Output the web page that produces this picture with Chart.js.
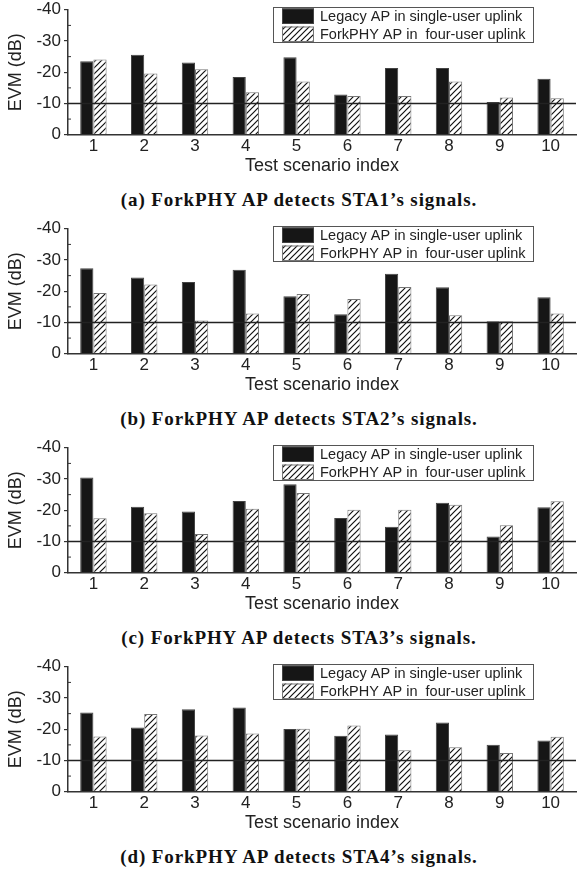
<!DOCTYPE html>
<html lang="en">
<head>
    <meta charset="UTF-8">
    <title>EVM per test scenario</title>
    <style>
        body {
            margin: 0;
            background: #fff;
            width: 588px;
        }

        .panel {
            height: 219px;
        }

        canvas {
            display: block;
        }

        .caption {
            height: 39px;
            line-height: 39px;
            text-align: center;
            padding-left: 10px;
            font-family: 'Liberation Serif', 'DejaVu Serif', serif;
            font-weight: bold;
            font-size: 19px;
            letter-spacing: 0.9px;
            color: #111;
        }
    </style>
</head>
<body>

<div class="panel">
    <canvas id="chartA" width="588" height="180"></canvas>
    <div class="caption">(a) ForkPHY AP detects STA1’s signals.</div>
</div>
<div class="panel">
    <canvas id="chartB" width="588" height="180"></canvas>
    <div class="caption">(b) ForkPHY AP detects STA2’s signals.</div>
</div>
<div class="panel">
    <canvas id="chartC" width="588" height="180"></canvas>
    <div class="caption">(c) ForkPHY AP detects STA3’s signals.</div>
</div>
<div class="panel">
    <canvas id="chartD" width="588" height="180"></canvas>
    <div class="caption">(d) ForkPHY AP detects STA4’s signals.</div>
</div>

<script src="https://cdn.jsdelivr.net/npm/chart.js"></script>
<script>
    // dados (EVM em dB)
    const scenarios = ['1', '2', '3', '4', '5', '6', '7', '8', '9', '10'];
    const seriesNames = ['Legacy AP in single-user uplink', 'ForkPHY AP in  four-user uplink'];
    const yTicks = [-40, -30, -20, -10, 0];
    const refLevel = -10;

    const legacySta1 = [-23.5, -25.6, -23.1, -18.5, -24.8, -12.9, -21.4, -21.4, -10.5, -17.9];
    const forkSta1   = [-24.1, -19.6, -21.0, -13.6, -17.0, -12.4, -12.4, -17.0, -11.9, -11.7];
    const legacySta2 = [-27.4, -24.4, -23.0, -26.9, -18.4, -12.6, -25.6, -21.3, -10.4, -18.1];
    const forkSta2   = [-19.4, -22.2, -10.6, -12.9, -19.1, -17.5, -21.4, -12.3, -10.4, -12.9];
    const legacySta3 = [-30.5, -21.1, -19.6, -23.0, -28.3, -17.5, -14.7, -22.4, -11.6, -21.0];
    const forkSta3   = [-17.4, -19.0, -12.4, -20.5, -25.5, -20.2, -20.2, -21.8, -15.2, -22.9];
    const legacySta4 = [-25.4, -20.6, -26.4, -27.0, -20.1, -17.9, -18.3, -22.2, -15.0, -16.4];
    const forkSta4   = [-17.7, -24.9, -18.0, -18.6, -20.2, -21.2, -13.3, -14.2, -12.4, -17.6];

    const fontFamily = "'Liberation Sans', Arial, sans-serif";

    function makeHatch() {
        const c = document.createElement('canvas');
        c.width = 6;
        c.height = 6;
        const g = c.getContext('2d');
        g.fillStyle = '#fff';
        g.fillRect(0, 0, 6, 6);
        g.strokeStyle = '#111';
        g.lineWidth = 1.2;
        g.beginPath();
        g.moveTo(0, 6); g.lineTo(6, 0);
        g.moveTo(-1, 1); g.lineTo(1, -1);
        g.moveTo(5, 7); g.lineTo(7, 5);
        g.stroke();
        return g.createPattern(c, 'repeat');
    }

    const hatch = makeHatch();

    // linha de referencia, ticks menores e legenda com caixa
    const extras = {
        id: 'extras',
        afterDatasetsDraw(chart) {
            const ctx = chart.ctx;
            const area = chart.chartArea;
            const y = chart.scales.y;
            const yRef = y.getPixelForValue(refLevel);
            ctx.save();
            ctx.strokeStyle = '#222';
            ctx.lineWidth = 1.5;
            ctx.beginPath();
            ctx.moveTo(area.left, yRef);
            ctx.lineTo(area.right, yRef);
            ctx.stroke();

            ctx.lineWidth = 1;
            ctx.strokeStyle = '#333';
            for (let i = 0; i < yTicks.length - 1; i++) {
                const yy = y.getPixelForValue((yTicks[i] + yTicks[i + 1]) / 2);
                ctx.beginPath();
                ctx.moveTo(area.left, yy);
                ctx.lineTo(area.left + 3, yy);
                ctx.stroke();
            }
            ctx.restore();
        },
        afterDraw(chart) {
            const ctx = chart.ctx;
            const sets = chart.data.datasets;
            ctx.save();
            ctx.fillStyle = '#fff';
            ctx.fillRect(273, 7, 261, 36);
            ctx.strokeStyle = '#555';
            ctx.lineWidth = 1;
            ctx.strokeRect(273.5, 7.5, 260, 35);

            const rows = [8.5, 26.5];
            sets.forEach((ds, i) => {
                ctx.fillStyle = ds.backgroundColor;
                ctx.fillRect(282, rows[i], 32, 15.5);
                ctx.strokeStyle = ds.borderColor;
                ctx.strokeRect(282.5, rows[i] + 0.5, 31, 14.5);
                ctx.fillStyle = '#222';
                ctx.font = '14.5px ' + fontFamily;
                ctx.textBaseline = 'middle';
                ctx.fillText(ds.label, 320, rows[i] + 8.5);
            });
            ctx.restore();
        }
    };

    function drawPanel(id, legacy, fork) {
        const ctx = document.getElementById(id).getContext('2d');
        new Chart(ctx, {
            type: 'bar',
            data: {
                labels: scenarios,
                datasets: [{
                    label: seriesNames[0],
                    data: legacy,
                    backgroundColor: '#161616',
                    borderColor: '#444',
                    borderWidth: 1
                }, {
                    label: seriesNames[1],
                    data: fork,
                    backgroundColor: hatch,
                    borderColor: '#777',
                    borderWidth: 1
                }]
            },
            options: {
                responsive: false,
                animation: false,
                events: [],
                categoryPercentage: 0.52,
                barPercentage: 1,
                layout: {
                    padding: { top: 7, right: 12, left: 0, bottom: 0 }
                },
                plugins: {
                    legend: { display: false },
                    tooltip: { enabled: false }
                },
                scales: {
                    x: {
                        offset: true,
                        grid: { display: false, drawTicks: false },
                        border: { color: '#333', width: 1.5 },
                        ticks: {
                            color: '#222',
                            padding: 3,
                            font: { family: fontFamily, size: 17, lineHeight: 1 }
                        },
                        title: {
                            display: true,
                            text: 'Test scenario index',
                            color: '#222',
                            font: { family: fontFamily, size: 18 },
                            padding: { top: 0, bottom: 3 }
                        },
                        afterFit(s) { s.height = 45.3; }
                    },
                    y: {
                        min: -40,
                        max: 0,
                        reverse: true,
                        grid: {
                            drawOnChartArea: false,
                            drawTicks: true,
                            tickLength: 4,
                            color: '#333',
                            lineWidth: 1.2
                        },
                        border: { color: '#333', width: 1.5 },
                        afterBuildTicks(s) {
                            s.ticks = yTicks.map(v => ({ value: v }));
                        },
                        ticks: {
                            color: '#222',
                            padding: 3,
                            font: { family: fontFamily, size: 17, lineHeight: 0.8 }
                        },
                        title: {
                            display: true,
                            text: 'EVM (dB)',
                            color: '#222',
                            font: { family: fontFamily, size: 18 },
                            padding: { top: 5, bottom: 0 }
                        },
                        afterFit(s) { s.width = 68; }
                    }
                }
            },
            plugins: [extras]
        });
    }

    drawPanel('chartA', legacySta1, forkSta1);
    drawPanel('chartB', legacySta2, forkSta2);
    drawPanel('chartC', legacySta3, forkSta3);
    drawPanel('chartD', legacySta4, forkSta4);
</script>

</body>
</html>
